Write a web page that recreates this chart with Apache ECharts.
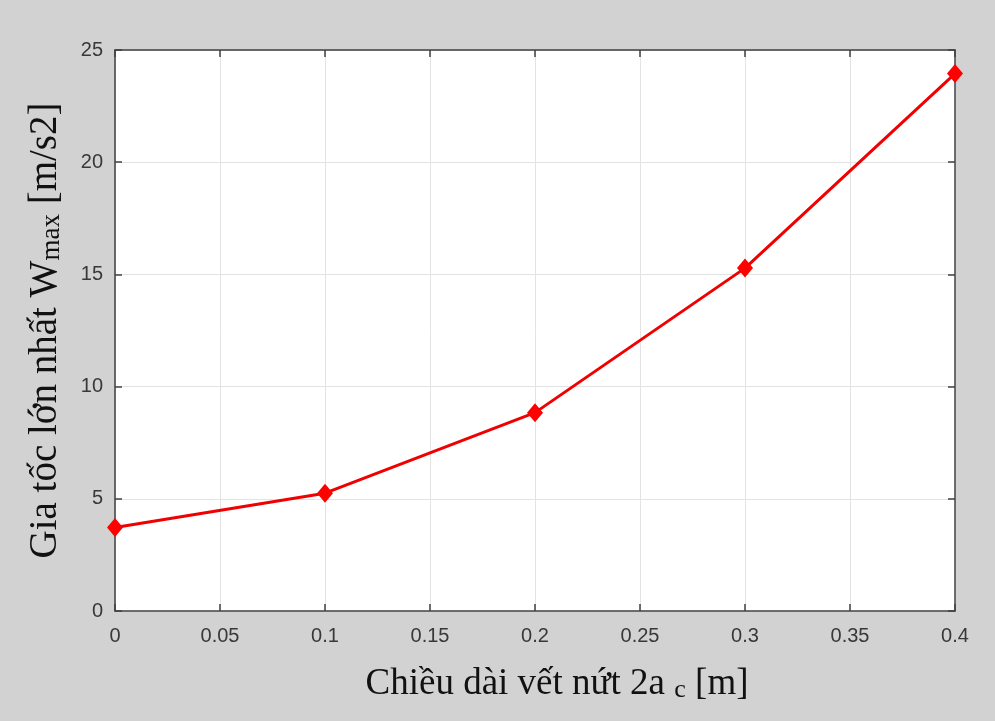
<!DOCTYPE html>
<html>
<head>
<meta charset="utf-8">
<script src="https://cdn.jsdelivr.net/npm/echarts@6/dist/echarts.min.js"></script>
<style>
  html, body { margin: 0; padding: 0; background: #d2d2d2; }
  #chart { width: 995px; height: 721px; }
</style>
</head>
<body>
<div id="chart"></div>
<script>
const crackLength = [0, 0.1, 0.2, 0.3, 0.4];
const maxAccel = [3.72, 5.25, 8.84, 15.28, 23.95];
const xTicks = [0, 0.05, 0.1, 0.15, 0.2, 0.25, 0.3, 0.35, 0.4];
const yTicks = [0, 5, 10, 15, 20, 25];

const chart = echarts.init(document.getElementById("chart"));

const tickFont = {
    fontFamily: 'Liberation Sans, Arial, sans-serif',
    fontSize: 20,
    color: '#383838'
};
const serif = 'Liberation Serif, Times New Roman, serif';

const boxLine = () => ({ show: true, onZero: false, lineStyle: { color: '#404040', width: 1.5 } });
const innerTick = () => ({ show: true, inside: true, length: 7, lineStyle: { color: '#404040', width: 1.5 } });

const option = {
    backgroundColor: '#d2d2d2',
    grid: {
        left: 115,
        right: 40,
        top: 50,
        bottom: 110,
        show: true,
        backgroundColor: '#ffffff',
        borderWidth: 0
    },
    xAxis: [{
        type: 'value',
        min: 0,
        max: 0.4,
        interval: 0.05,
        axisLine: boxLine(),
        axisTick: innerTick(),
        splitLine: { show: true, lineStyle: { color: '#e3e3e3', width: 1 } },
        axisLabel: {
            ...tickFont,
            margin: 15,
            formatter: v => xTicks.includes(+v.toFixed(2)) ? String(+v.toFixed(2)) : ''
        },
        name: '{m|Chiều dài vết nứt 2a }{s|c}{m| [m]}',
        nameLocation: 'middle',
        nameGap: 54,
        nameTextStyle: {
            padding: [0, 0, 0, 44],
            rich: {
                m: { fontFamily: serif, fontSize: 37, color: '#111' },
                s: { fontFamily: serif, fontSize: 26, color: '#111', padding: [12, 0, 0, 0] }
            }
        }
    }, {
        type: 'value',
        position: 'top',
        min: 0,
        max: 0.4,
        interval: 0.05,
        axisLine: boxLine(),
        axisTick: innerTick(),
        axisLabel: { show: false },
        splitLine: { show: false }
    }],
    yAxis: [{
        type: 'value',
        min: 0,
        max: 25,
        interval: 5,
        axisLine: boxLine(),
        axisTick: innerTick(),
        splitLine: { show: true, lineStyle: { color: '#e3e3e3', width: 1 } },
        axisLabel: { ...tickFont, margin: 12 },
        name: '{m|Gia tốc lớn nhất W}{s|max}{m| [m/s2]}',
        nameLocation: 'middle',
        nameRotate: 90,
        nameGap: 50,
        nameTextStyle: {
            rich: {
                m: { fontFamily: serif, fontSize: 39, color: '#111' },
                s: { fontFamily: serif, fontSize: 27, color: '#111', padding: [12, 0, 0, 0] }
            }
        }
    }, {
        type: 'value',
        position: 'right',
        min: 0,
        max: 25,
        interval: 5,
        axisLine: boxLine(),
        axisTick: innerTick(),
        axisLabel: { show: false },
        splitLine: { show: false }
    }],
    series: [{
        type: 'line',
        data: crackLength.map((x, i) => [x, maxAccel[i]]),
        symbol: 'diamond',
        symbolSize: [16, 19],
        lineStyle: { color: '#f00000', width: 3 },
        itemStyle: { color: '#ff0000' },
        animation: false
    }]
};

chart.setOption(option);
</script>
</body>
</html>
